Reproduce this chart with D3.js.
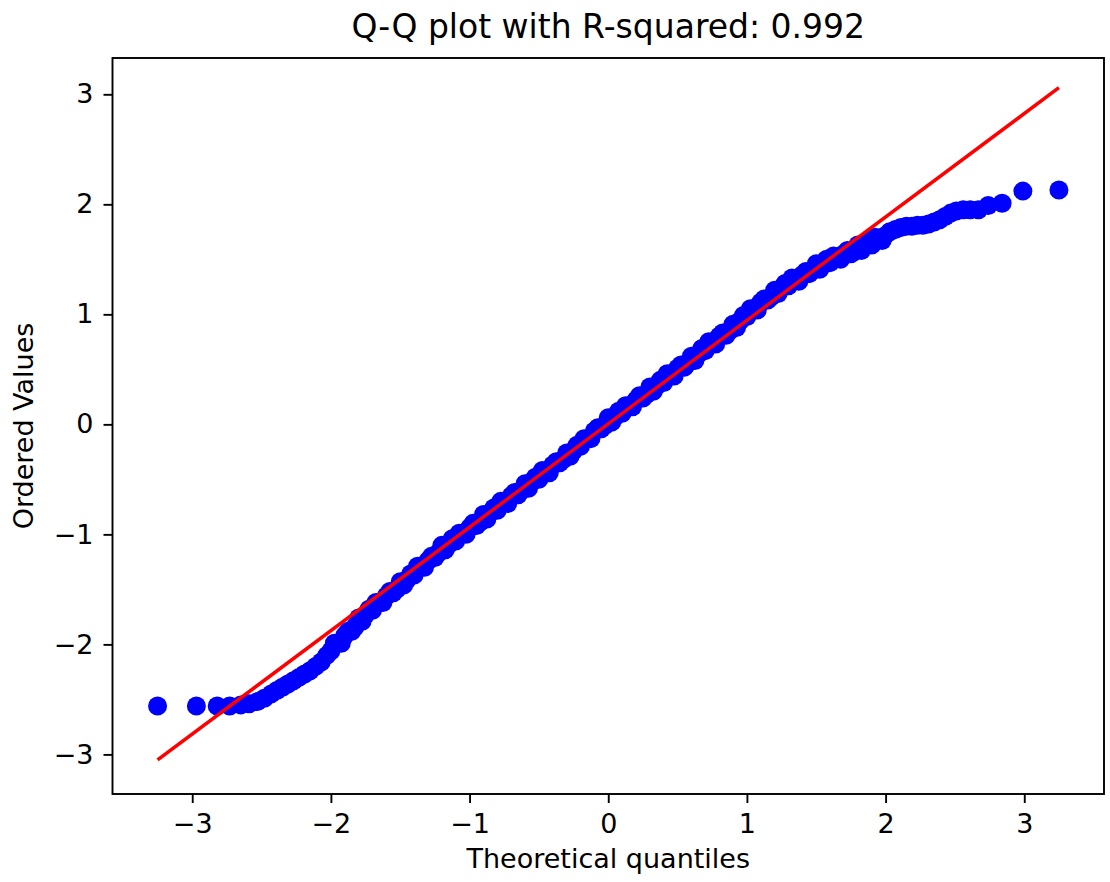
<!DOCTYPE html>
<html lang="en">

<head>
  <meta charset="UTF-8">
  <title>Q-Q plot</title>
  <script src="https://d3js.org/d3.v7.min.js"></script>
  <style>
    body { margin: 0; background: #fff; }
    svg { overflow: visible; }
    text { font-family: "DejaVu Sans", sans-serif; fill: #000; }
  </style>
</head>

<body>

  <svg width="1110" height="882" id="qq"></svg>

  <script>
    // theoretical quantiles (x) and ordered values (y)
    const theoretical = [
      -3.25, -2.97, -2.82, -2.73, -2.65, -2.59, -2.53, -2.48, -2.43, -2.39,
      -2.35, -2.31, -2.27, -2.23, -2.19, -2.15, -2.11, -2.07, -2.03, -2.00,
      -1.975, -1.95, -1.925, -1.9, -1.875, -1.85, -1.825, -1.8, -1.775, -1.75,
      -1.725, -1.7, -1.675, -1.65, -1.625, -1.6, -1.575, -1.55, -1.525, -1.5,
      -1.475, -1.45, -1.425, -1.4, -1.375, -1.35, -1.325, -1.3, -1.275, -1.25,
      -1.225, -1.2, -1.175, -1.15, -1.125, -1.1, -1.075, -1.05, -1.025, -1.0,
      -0.975, -0.95, -0.925, -0.9, -0.875, -0.85, -0.825, -0.8, -0.775, -0.75,
      -0.725, -0.7, -0.675, -0.65, -0.625, -0.6, -0.575, -0.55, -0.525, -0.5,
      -0.475, -0.45, -0.425, -0.4, -0.375, -0.35, -0.325, -0.3, -0.275, -0.25,
      -0.225, -0.2, -0.175, -0.15, -0.125, -0.1, -0.075, -0.05, -0.025, 0.0,
      0.025, 0.05, 0.075, 0.1, 0.125, 0.15, 0.175, 0.2, 0.225, 0.25,
      0.275, 0.3, 0.325, 0.35, 0.375, 0.4, 0.425, 0.45, 0.475, 0.5,
      0.525, 0.55, 0.575, 0.6, 0.625, 0.65, 0.675, 0.7, 0.725, 0.75,
      0.775, 0.8, 0.825, 0.85, 0.875, 0.9, 0.925, 0.95, 0.975, 1.0,
      1.025, 1.05, 1.075, 1.1, 1.125, 1.15, 1.175, 1.2, 1.225, 1.25,
      1.275, 1.3, 1.325, 1.35, 1.375, 1.4, 1.425, 1.45, 1.475, 1.5,
      1.525, 1.55, 1.575, 1.6, 1.625, 1.65, 1.675, 1.7, 1.725, 1.75,
      1.775, 1.8, 1.825, 1.85, 1.875, 1.9, 1.925, 1.95, 1.975,
      1.99, 2.03, 2.07, 2.11, 2.15, 2.19, 2.23, 2.27, 2.31, 2.35,
      2.39, 2.43, 2.47, 2.51, 2.56, 2.61, 2.67, 2.74, 2.84, 2.99, 3.25
    ];
    const ordered = [
      -2.56, -2.56, -2.56, -2.56, -2.55, -2.54, -2.52, -2.49, -2.45, -2.42,
      -2.39, -2.36, -2.33, -2.30, -2.27, -2.24, -2.20, -2.16, -2.10, -2.06,
      -1.99, -1.99, -1.99, -1.92, -1.88, -1.88, -1.84, -1.76, -1.79, -1.73,
      -1.68, -1.69, -1.62, -1.62, -1.62, -1.56, -1.52, -1.53, -1.50, -1.43,
      -1.46, -1.41, -1.36, -1.37, -1.29, -1.30, -1.30, -1.24, -1.20, -1.21,
      -1.17, -1.10, -1.14, -1.09, -1.04, -1.06, -0.99, -0.99, -1.00, -0.94,
      -0.90, -0.92, -0.89, -0.82, -0.86, -0.80, -0.76, -0.78, -0.70, -0.71,
      -0.72, -0.65, -0.62, -0.64, -0.60, -0.54, -0.58, -0.52, -0.48, -0.50,
      -0.42, -0.43, -0.44, -0.37, -0.34, -0.35, -0.32, -0.26, -0.29, -0.24,
      -0.19, -0.20, -0.13, -0.13, -0.13, -0.06, -0.03, -0.04, -0.01, 0.06,
      0.02, 0.07, 0.12, 0.10, 0.17, 0.17, 0.16, 0.22, 0.26, 0.24,
      0.27, 0.34, 0.30, 0.35, 0.40, 0.38, 0.46, 0.45, 0.44, 0.51,
      0.54, 0.52, 0.56, 0.62, 0.58, 0.64, 0.69, 0.67, 0.75, 0.74,
      0.73, 0.80, 0.83, 0.81, 0.85, 0.91, 0.88, 0.94, 0.99, 0.98,
      1.05, 1.05, 1.04, 1.11, 1.14, 1.13, 1.16, 1.22, 1.19, 1.24,
      1.28, 1.26, 1.33, 1.31, 1.30, 1.36, 1.39, 1.37, 1.40, 1.46,
      1.41, 1.46, 1.50, 1.47, 1.53, 1.52, 1.50, 1.55, 1.58, 1.55,
      1.57, 1.63, 1.58, 1.62, 1.66, 1.63, 1.70, 1.68, 1.67,
      1.71, 1.75, 1.77, 1.79, 1.80, 1.80, 1.81, 1.81, 1.82, 1.84,
      1.86, 1.89, 1.92, 1.94, 1.95, 1.95, 1.95, 1.99, 2.01, 2.12, 2.13
    ];

    // least squares fit line: y = slope * x + intercept
    const slope = 0.940;
    const intercept = 0.005;
    const rSquared = 0.992;

    // axis ranges and ticks
    const xDomain = [-3.575, 3.575];
    const yDomain = [-3.36, 3.33];
    const xTicks = [-3, -2, -1, 0, 1, 2, 3];
    const yTicks = [-3, -2, -1, 0, 1, 2, 3];

    const data = theoretical.map((t, i) => ({ x: t, y: ordered[i] }));

    const svg = d3.select('#qq');
    const width = +svg.attr('width');
    const height = +svg.attr('height');
    const margin = { top: 58, right: 6, bottom: 88, left: 112.5 };
    const innerWidth = width - margin.left - margin.right;
    const innerHeight = height - margin.top - margin.bottom;

    const xScale = d3.scaleLinear().domain(xDomain).range([0, innerWidth]);
    const yScale = d3.scaleLinear().domain(yDomain).range([innerHeight, 0]);

    const g = svg.append('g')
      .attr('transform', `translate(${margin.left}, ${margin.top})`);

    const fmt = d => (d < 0 ? '\u2212' + Math.abs(d) : '' + d);

    // axes
    const xAxis = d3.axisBottom(xScale).tickValues(xTicks).tickFormat(fmt)
      .tickSize(9).tickPadding(11);
    const yAxis = d3.axisLeft(yScale).tickValues(yTicks).tickFormat(fmt)
      .tickSize(9).tickPadding(10);

    const gx = g.append('g').attr('transform', `translate(0, ${innerHeight})`).call(xAxis);
    const gy = g.append('g').call(yAxis);
    [gx, gy].forEach(a => {
      a.select('.domain').remove();
      a.selectAll('.tick line').attr('stroke', '#000').attr('stroke-width', 1.9);
      a.selectAll('.tick text').attr('font-size', '27px')
        .attr('font-family', '"DejaVu Sans", sans-serif').attr('fill', '#000');
    });

    // points
    g.append('g').selectAll('circle')
      .data(data)
      .join('circle')
      .attr('cx', d => xScale(d.x))
      .attr('cy', d => yScale(d.y))
      .attr('r', 9.5)
      .attr('fill', '#0000ff');

    // fit line over the range of the theoretical quantiles
    const xExt = d3.extent(theoretical);
    g.append('line')
      .attr('x1', xScale(xExt[0]))
      .attr('y1', yScale(slope * xExt[0] + intercept))
      .attr('x2', xScale(xExt[1]))
      .attr('y2', yScale(slope * xExt[1] + intercept))
      .attr('stroke', '#ff0000')
      .attr('stroke-width', 3.5);

    // frame
    g.append('rect')
      .attr('width', innerWidth)
      .attr('height', innerHeight)
      .attr('fill', 'none')
      .attr('stroke', '#000')
      .attr('stroke-width', 1.9);

    // titles
    svg.append('text')
      .text(`Q-Q plot with R-squared: ${rSquared}`)
      .attr('x', margin.left + innerWidth / 2)
      .attr('y', 38)
      .attr('text-anchor', 'middle')
      .attr('font-size', '33px');

    svg.append('text')
      .text('Theoretical quantiles')
      .attr('x', margin.left + innerWidth / 2)
      .attr('y', 868)
      .attr('text-anchor', 'middle')
      .attr('font-size', '27px');

    svg.append('text')
      .text('Ordered Values')
      .attr('transform', `translate(33, ${margin.top + innerHeight / 2}) rotate(-90)`)
      .attr('text-anchor', 'middle')
      .attr('font-size', '27px');
  </script>
</body>

</html>
